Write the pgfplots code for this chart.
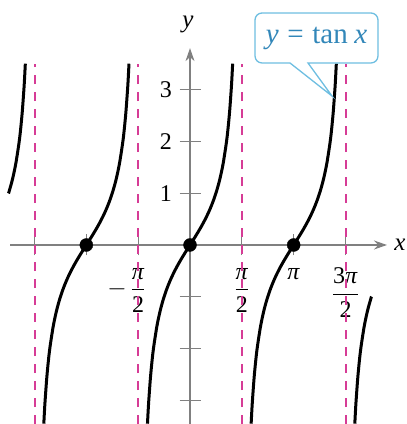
\documentclass[border=0pt]{standalone}
\usepackage{fontspec}
\setmainfont{Liberation Serif}
\usepackage{amsmath}
\usepackage{pgfplots}
\pgfplotsset{compat=1.18}
\usetikzlibrary{arrows.meta}
\definecolor{asym}{RGB}{214,60,150}
\definecolor{axgray}{RGB}{128,128,128}
\definecolor{calloutline}{RGB}{110,190,225}
\definecolor{callouttext}{RGB}{50,135,185}
\newcommand{\pifrac}[1]{$\dfrac{\text{#1\textit{π}}}{\text{2}}$}
\begin{document}
\begin{tikzpicture}
\begin{axis}[
  x=33pt, y=51.8pt,
  xmin=-5.45, xmax=5.97, ymin=-3.456, ymax=3.80,
  axis lines=middle,
  x axis line style={draw=axgray, line width=1.2pt, -{Stealth[length=13pt,width=9pt]}},
  y axis line style={draw=axgray, line width=1.2pt, -{Stealth[length=13pt,width=9pt]}},
  tick style={draw=axgray, line width=1.2pt},
  tick align=center, major tick length=21pt,
  clip=false,
  xtick={-4.7124,-3.1416,-1.5708,1.5708,3.1416,4.7124},
  xticklabels={,,{\llap{$-$\,}\pifrac{}},{\pifrac{}},{\textit{π}},{\pifrac{3}}},
  ytick={-3,-2,-1,1,2,3},
  yticklabels={,,,1,2,3},
  tick label style={font=\fontsize{24}{27}\selectfont},
  xticklabel style={anchor=north, yshift=-9pt},
  yticklabel style={anchor=east, xshift=-4pt},
]
% asymptotes
\addplot[asym, line width=2pt, dash pattern=on 9pt off 8pt] coordinates {(-4.7124,-3.456) (-4.7124,3.5)};
\addplot[asym, line width=2pt, dash pattern=on 9pt off 8pt] coordinates {(-1.5708,-3.456) (-1.5708,3.5)};
\addplot[asym, line width=2pt, dash pattern=on 9pt off 8pt] coordinates {(1.5708,-3.456) (1.5708,3.5)};
\addplot[asym, line width=2pt, dash pattern=on 9pt off 8pt] coordinates {(4.7124,-3.456) (4.7124,3.5)};
% branches of tan x
\addplot[black, line width=3pt, smooth] coordinates {
(-5.5,0.9956) (-5.4832,1.0296) (-5.3832,1.2602) (-5.2832,1.5574) (-5.1832,1.9648)
(-5.1332,2.2345) (-5.0832,2.5722) (-5.0332,3.0096) (-5.0132,3.2218) (-4.9907,3.5)};
\addplot[black, line width=3pt, smooth] coordinates {
(-4.4303,-3.45) (-4.4116,-3.2218) (-4.3916,-3.0096) (-4.3416,-2.5722) (-4.2916,-2.2345)
(-4.2416,-1.9648) (-4.1416,-1.5574) (-4.0416,-1.2602) (-3.9416,-1.0296) (-3.8416,-0.8423)
(-3.7416,-0.6841) (-3.6416,-0.5463) (-3.5416,-0.4228) (-3.4416,-0.3093) (-3.3416,-0.2027)
(-3.2416,-0.1003) (-3.1416,0) (-3.0416,0.1003) (-2.9416,0.2027) (-2.8416,0.3093)
(-2.7416,0.4228) (-2.6416,0.5463) (-2.5416,0.6841) (-2.4416,0.8423) (-2.3416,1.0296)
(-2.2416,1.2602) (-2.1416,1.5574) (-2.0416,1.9648) (-1.9916,2.2345) (-1.9416,2.5722)
(-1.8916,3.0096) (-1.8716,3.2218) (-1.8491,3.5)};
\addplot[black, line width=3pt, smooth] coordinates {
(-1.2887,-3.45) (-1.27,-3.2218) (-1.25,-3.0096) (-1.2,-2.5722) (-1.15,-2.2345)
(-1.1,-1.9648) (-1.0,-1.5574) (-0.9,-1.2602) (-0.8,-1.0296) (-0.7,-0.8423)
(-0.6,-0.6841) (-0.5,-0.5463) (-0.4,-0.4228) (-0.3,-0.3093) (-0.2,-0.2027)
(-0.1,-0.1003) (0,0) (0.1,0.1003) (0.2,0.2027) (0.3,0.3093)
(0.4,0.4228) (0.5,0.5463) (0.6,0.6841) (0.7,0.8423) (0.8,1.0296)
(0.9,1.2602) (1.0,1.5574) (1.1,1.9648) (1.15,2.2345) (1.2,2.5722)
(1.25,3.0096) (1.27,3.2218) (1.2925,3.5)};
\addplot[black, line width=3pt, smooth] coordinates {
(1.8529,-3.45) (1.8716,-3.2218) (1.8916,-3.0096) (1.9416,-2.5722) (1.9916,-2.2345)
(2.0416,-1.9648) (2.1416,-1.5574) (2.2416,-1.2602) (2.3416,-1.0296) (2.4416,-0.8423)
(2.5416,-0.6841) (2.6416,-0.5463) (2.7416,-0.4228) (2.8416,-0.3093) (2.9416,-0.2027)
(3.0416,-0.1003) (3.1416,0) (3.2416,0.1003) (3.3416,0.2027) (3.4416,0.3093)
(3.5416,0.4228) (3.6416,0.5463) (3.7416,0.6841) (3.8416,0.8423) (3.9416,1.0296)
(4.0416,1.2602) (4.1416,1.5574) (4.2416,1.9648) (4.2916,2.2345) (4.3416,2.5722)
(4.3916,3.0096) (4.4116,3.2218) (4.4341,3.5)};
\addplot[black, line width=3pt, smooth] coordinates {
(4.9945,-3.45) (5.0132,-3.2218) (5.0332,-3.0096) (5.0832,-2.5722) (5.1332,-2.2345)
(5.1832,-1.9648) (5.2832,-1.5574) (5.3832,-1.2602) (5.4832,-1.0296) (5.5,-0.9956)};
% zeros
\addplot[only marks, mark=*, mark size=6.5pt, black] coordinates {(-3.1416,0) (0,0) (3.1416,0)};
% axis labels
\node[font=\fontsize{25}{27}\selectfont] at (axis cs:6.36,0) {\textit{x}};
\node[font=\fontsize{25}{27}\selectfont] at (axis cs:-0.06,4.25) {\textit{y}};
% callout
\draw[calloutline, fill=white, line width=1.3pt]
  (axis cs:4.303,2.876) -- (axis cs:3.576,3.514)
  [rounded corners=7pt] -- (axis cs:5.697,3.514) -- (axis cs:5.697,4.479)
  -- (axis cs:1.970,4.479) -- (axis cs:1.970,3.514)
  [sharp corners] -- (axis cs:3.030,3.514) -- cycle;
\node[text=callouttext, font=\fontsize{29}{31}\selectfont] at (axis cs:3.833,3.996)
  {\textit{y}\hspace{0.3em}=\hspace{0.3em}tan\hspace{0.22em}\textit{x}};
\coordinate (BL) at (axis cs:-5.758,-3.456);
\coordinate (TR) at (axis cs:6.576,4.730);
\end{axis}
\pgfresetboundingbox
\path[use as bounding box] (BL) rectangle (TR);
\end{tikzpicture}
\end{document}
